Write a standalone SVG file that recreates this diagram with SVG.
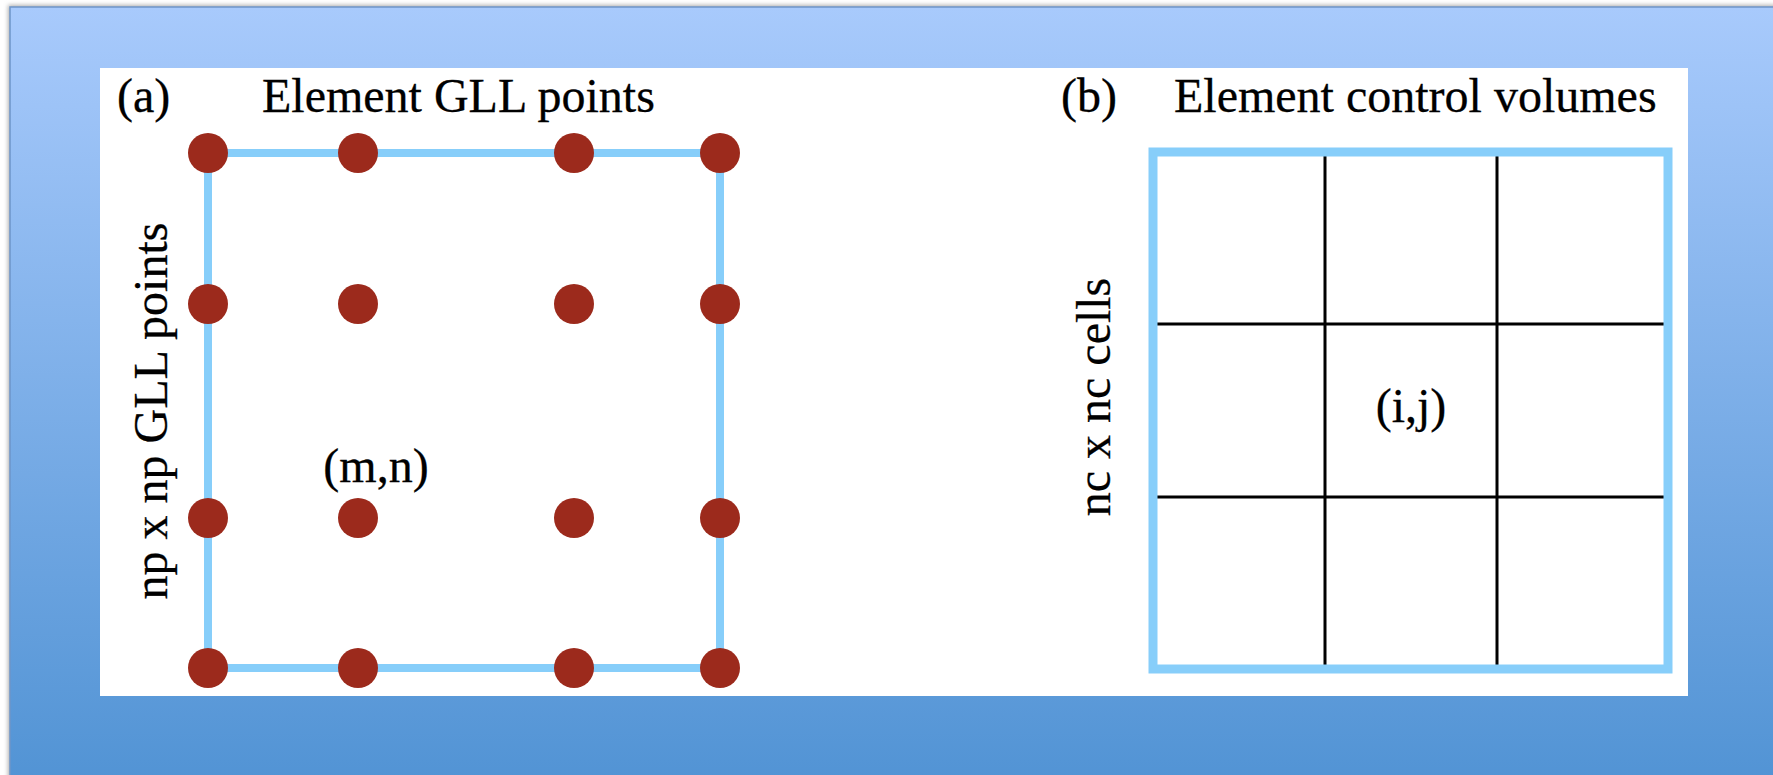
<svg xmlns="http://www.w3.org/2000/svg" width="1773" height="775" viewBox="0 0 1773 775">
<defs>
<linearGradient id="bg" x1="0" y1="0" x2="0" y2="1">
<stop offset="0" stop-color="#a8cafc"/>
<stop offset="1" stop-color="#5193d4"/>
</linearGradient>
<filter id="sh" x="-5%" y="-5%" width="110%" height="110%">
<feGaussianBlur stdDeviation="2"/>
</filter>
</defs>
<style>
.t{font-family:"Liberation Serif","Times New Roman",serif;font-size:48px;fill:#000;stroke:#000;stroke-width:0.3}
.dot{fill:#9c2a1c}
.frame-a{fill:none;stroke:#87cefa;stroke-width:8}
.frame-b{fill:none;stroke:#87cefa;stroke-width:9}
.grid{stroke:#000;stroke-width:3}
</style>
<rect width="1773" height="775" fill="#ffffff"/>
<rect x="8" y="5" width="1780" height="790" fill="#b0b0b0" filter="url(#sh)"/>
<rect id="background" x="10" y="7" width="1775" height="780" fill="url(#bg)" stroke="#6e95c9" stroke-width="1.5"/>
<rect id="panel" x="100" y="68" width="1588" height="628" fill="#ffffff"/>

<g id="panel-a">
<text class="t" x="117" y="112">(a)</text>
<text class="t" x="262" y="112">Element GLL points</text>
<text class="t" transform="translate(167,411) rotate(-90)" text-anchor="middle">np x np GLL points</text>
<text class="t" x="376" y="482" text-anchor="middle">(m,n)</text>
</g>

<g id="connectors">
<rect class="frame-a" x="208" y="153" width="512" height="515"/>
<line class="grid" x1="1325" y1="156" x2="1325" y2="665"/>
<line class="grid" x1="1497" y1="156" x2="1497" y2="665"/>
<line class="grid" x1="1157" y1="324" x2="1664" y2="324"/>
<line class="grid" x1="1157" y1="497" x2="1664" y2="497"/>
<rect class="frame-b" x="1153" y="152" width="515" height="517"/>
</g>

<g id="gll-points">
<circle class="dot" cx="208" cy="153" r="20"/>
<circle class="dot" cx="358" cy="153" r="20"/>
<circle class="dot" cx="574" cy="153" r="20"/>
<circle class="dot" cx="720" cy="153" r="20"/>
<circle class="dot" cx="208" cy="304" r="20"/>
<circle class="dot" cx="358" cy="304" r="20"/>
<circle class="dot" cx="574" cy="304" r="20"/>
<circle class="dot" cx="720" cy="304" r="20"/>
<circle class="dot" cx="208" cy="518" r="20"/>
<circle class="dot" cx="358" cy="518" r="20"/>
<circle class="dot" cx="574" cy="518" r="20"/>
<circle class="dot" cx="720" cy="518" r="20"/>
<circle class="dot" cx="208" cy="668" r="20"/>
<circle class="dot" cx="358" cy="668" r="20"/>
<circle class="dot" cx="574" cy="668" r="20"/>
<circle class="dot" cx="720" cy="668" r="20"/>
</g>

<g id="panel-b">
<text class="t" x="1061" y="112">(b)</text>
<text class="t" x="1174" y="112">Element control volumes</text>
<text class="t" transform="translate(1110,397) rotate(-90)" text-anchor="middle">nc x nc cells</text>
<text class="t" x="1411" y="422" text-anchor="middle">(i,j)</text>
</g>
</svg>
